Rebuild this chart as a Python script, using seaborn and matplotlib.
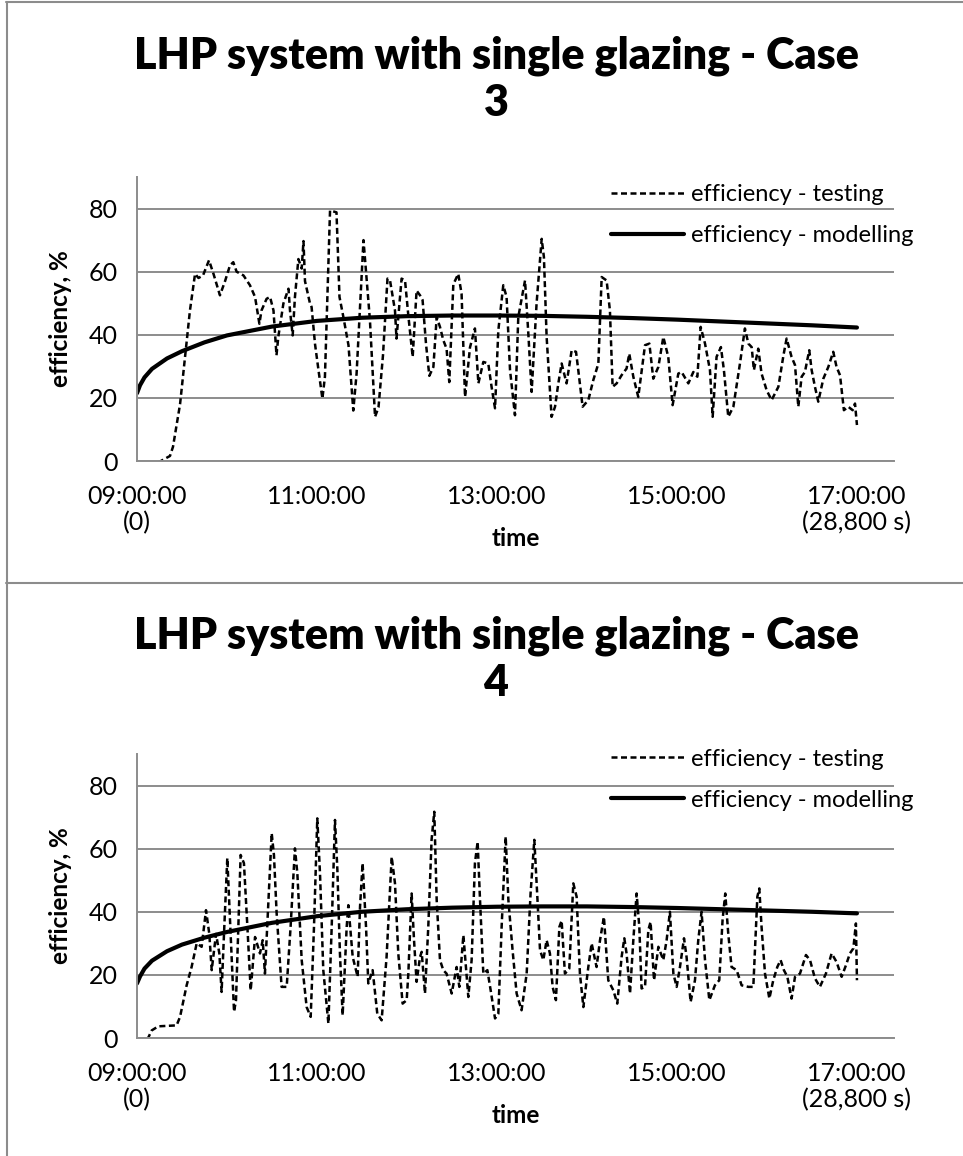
import numpy as np
import pandas as pd
import matplotlib
matplotlib.use("Agg")
import matplotlib.pyplot as plt
from matplotlib.lines import Line2D
import seaborn as sns

# time axis in minutes after 09:00 (0 .. 480 = 17:00)
TIME_TICKS = [0, 120, 240, 360, 480]
TIME_LABELS = ["09:00:00\n(0)", "11:00:00", "13:00:00", "15:00:00", "17:00:00\n(28,800 s)"]
Y_TICKS = [0, 20, 40, 60, 80]

case3_test_t = [14, 22, 24, 28.7, 32, 35.3, 38.7, 41, 44, 48, 51, 55.3, 58.7, 62, 64.2, 66.4, 71, 75.3,
                78.7, 81.6, 83, 86.4, 88.7, 91, 93, 94.2, 97.6, 101, 102, 103.8, 105.3, 107.6, 109.8, 111,
                112, 115.3, 116.4, 118.7, 121, 123.6, 125.3, 128.7, 133, 135, 137.6, 141, 144.2, 146.4,
                151, 153, 155.3, 158.7, 161, 164, 167, 168.7, 172, 173, 176.4, 178.7, 181, 183.8, 186.4,
                188.7, 190.4, 192.7, 194.9, 197.6, 199.8, 202, 204.2, 206.4, 208.2, 210.9, 214.2, 216.4,
                218.7, 222, 225.3, 227.6, 230.9, 234.2, 236.4, 238.7, 240.9, 244.2, 246.4, 248.7, 252,
                254.2, 258.7, 260.9, 263.1, 266.4, 269.8, 271.3, 273.1, 276.4, 278.7, 280.9, 283.1, 286.4,
                289.8, 292.7, 294.2, 297.1, 300.9, 304.2, 307.6, 309.8, 313.1, 315.3, 317.1, 319.8, 323.1,
                326.4, 328.2, 330.9, 334.2, 338.7, 341.6, 344.2, 347.6, 350.9, 354.2, 357.1, 360.9, 363.1,
                367.6, 370.9, 373.6, 375.8, 378.7, 382, 383.8, 386.4, 389.3, 391.3, 394.2, 397.6, 402,
                405.3, 407.6, 409.8, 411.3, 414.2, 416.4, 419.8, 423.1, 427.6, 431, 433.1, 436.4, 438.7,
                440.9, 443.1, 445.3, 448.2, 449.8, 452, 454.2, 457.6, 460.9, 464.2, 466.4, 468.7, 471.3,
                474.2, 477.1, 478.7, 480]
case3_test_v = [-0.5, 1.6, 4.5, 18, 33, 47.7, 59.3, 58, 58.8, 63.6, 59.3, 52.5, 57, 62, 63, 60, 58.8, 55.7,
                52, 43.5, 47.7, 51.4, 52, 47.7, 33.5, 39.3, 49.9, 54.6, 47.7, 39.8, 52, 64, 61, 69.7,
                57, 50, 48.8, 37, 28.8, 19.8, 26.7, 79.4, 78.8, 52, 45.6, 36.7, 16, 27.7,
                70, 58, 44.6, 14, 17, 33.5, 57.8, 57.2, 47.7, 38.8, 57.8, 57.2, 45.6, 33, 54,
                52.5, 51, 37, 27, 29.8, 45.6, 42.5, 38.3, 35.6, 25, 56, 59.3, 53,
                20.3, 36, 42, 24.6, 31.4, 30.9, 23.5, 16.7, 41.4, 55.7, 52, 28.8, 14.5,
                45.6, 57.2, 40.4, 21.9, 49.9, 70.4, 64.6, 39.3, 14, 17.2, 24.6, 30.9, 24.6,
                35.1, 34.6, 28.8, 17.2, 19.3, 25.6, 30.9, 58.3, 57.2, 47.7, 23.5, 24.6, 27.2,
                29.3, 34, 26.7, 20.3, 36.7, 37.2, 26.1, 29.8, 39.3, 33, 17.7, 27.7, 28.2,
                24.6, 28.2, 26.7, 42.5, 37.2, 28.8, 14, 33, 36.1, 28.8, 14, 17.2, 30.9,
                42, 37.2, 36.1, 28.8, 35.6, 27.7, 22.4, 19.3, 23.5, 33.5, 38.8, 33, 30.4,
                17.2, 26.7, 28.2, 35.1, 28.8, 23.5, 18.8, 26.1, 29.8, 34.6, 29.8, 27.2, 16.1,
                17.2, 16.1, 18.2, 11.4]

# ---- Case 3: modelled efficiency
case3_model_t = [0, 2, 5, 10, 20, 30, 45, 60, 90, 120, 150, 180, 210, 240, 270, 300, 330, 360, 390, 420, 450, 480]
case3_model_v = [21.5, 24, 26.5, 29.2, 32.5, 34.8, 37.6, 39.8, 42.6, 44.4, 45.4, 45.9, 46.1, 46.1, 46,
                 45.7, 45.3, 44.8, 44.2, 43.6, 43, 42.3]

# ---- Case 4: measured efficiency
case4_test_t = [6.9, 9.8, 14.2, 26.4, 28.7, 33.1, 36.4, 39.8, 43.1, 46, 48.2, 49.8, 52.7, 54.9, 56.4, 58.2,
                60.2, 62, 64.7, 66, 69.1, 71.3, 73.6, 75.8, 78.7, 82, 83.8, 85.3, 87.1, 89.8, 91.3, 93.1,
                96.4, 99.8, 102.4, 105.3, 106.9, 109.8, 113.1, 115.8, 118, 120.2, 122, 124.2, 127.6, 129.8,
                132, 133.6, 135.3, 137.1, 139.8, 140.9, 143.8, 147.1, 148.7, 150.4, 152.7, 154.2, 157.1,
                160.2, 163.1, 166.4, 169.8, 172, 174.2, 177.1, 179.8, 180.9, 183.1, 184.7, 186.4, 188.7,
                189.8, 192, 194.2, 196.4, 198.2, 199.8, 202, 204.2, 206.4, 209.8, 213.1, 214.9, 217.6,
                220.9, 223.1, 225.3, 227.1, 228.7, 230.9, 233.6, 235.8, 238.7, 240.9, 243.1, 245.8, 247.6,
                250.4, 253.1, 256.4, 259.8, 262.4, 264.9, 266.9, 268.7, 270.9, 273.1, 275.3, 277.1, 279.3,
                281.6, 283.1, 285.3, 288.2, 290.9, 293.1, 295.3, 297.6, 300.9, 303.1, 306.4, 308.7, 311.3,
                314.2, 317.6, 320.2, 323.1, 324.9, 326.4, 328.7, 330.9, 333.1, 334.9, 336.4, 338.7, 340.9,
                342.4, 344.7, 347.6, 350.9, 353.1, 355.3, 357.6, 359.8, 362, 364.7, 366.4, 369.1, 372,
                374.2, 376.4, 378.7, 381.6, 385.3, 388.2, 390.4, 392.2, 394.2, 396.4, 399.8, 403.1, 407.6,
                410.9, 413.6, 414.9, 416.4, 418.7, 421.6, 424.2, 426.9, 429.1, 431.3, 433.6, 436.4, 438.7,
                442, 446, 448.7, 452, 455.3, 459.3, 463.1, 466.4, 469.8, 472.7, 475.3, 477.6, 479.3, 480]
case4_test_v = [-0.5, 2.4, 3.7, 4, 6.7, 16.7, 22.5, 30, 28.9, 40.5, 33, 21.5, 33, 26.8, 14.6, 35.2,
                57, 37.4, 8.3, 12, 58, 55.4, 35.2, 15.1, 32, 26.8, 31, 20.4, 38.4, 64.9, 58, 39.5,
                16.2, 16.2, 35.2, 60.1, 52.2, 24.7, 9.8, 6.7, 35.2, 69.6, 52.2, 21.5, 4.6, 35.2,
                69.1, 53.2, 26.8, 7.2, 35.2, 42.1, 25.7, 19.4, 41.6, 55.4, 35.2, 17.3, 21.5,
                7.7, 5.6, 25.7, 57.4, 49, 26.8, 10.9, 12, 20.4, 45.8, 31, 17.8, 25.7,
                27.3, 14.1, 35.2, 62.8, 71.7, 43.7, 24.7, 21.5, 20.4, 14.1, 22.5, 16.2, 32.6,
                13, 24.7, 55.4, 62.2, 43.7, 20.4, 21.5, 15.1, 6.2, 7.7, 35.2, 63.8, 43.7,
                27.8, 14.1, 8.8, 20.4, 45.8, 62.8, 44.8, 27.8, 24.7, 31, 26.8, 16.2, 12,
                35.2, 37.2, 20.4, 22, 49, 44.8, 20.4, 9.8, 22.5, 30, 22.5, 31, 38.4,
                18.3, 15.1, 10.9, 25.7, 31.6, 26.8, 14.1, 31, 45.8, 35.2, 15.7, 16.2, 34.2,
                36.8, 18.3, 28.9, 24.7, 31, 40, 20.4, 16.2, 22.5, 31.6, 25.7, 11.4, 18.3,
                31, 40, 24.7, 12, 16.7, 18.3, 37.4, 45.8, 33, 22.5, 21.5, 16.7, 16.2,
                16.2, 44.8, 47.4, 35.2, 20.4, 12.5, 18.3, 22.5, 24.7, 21.5, 19.4, 12.5, 19.4,
                20.4, 26.3, 24.7, 18.9, 16.2, 20.4, 26.8, 24.1, 19.4, 23.1, 26.8, 28.4, 36.3, 18.3]

# ---- Case 4: modelled efficiency
case4_model_t = [0, 2, 5, 10, 20, 30, 45, 60, 90, 120, 150, 180, 210, 240, 270, 300, 330, 360, 390, 420, 450, 480]
case4_model_v = [17.3, 19.5, 22, 24.5, 27.5, 29.6, 31.8, 33.6, 36.5, 38.6, 40, 40.8, 41.3, 41.6, 41.7,
                 41.7, 41.5, 41.2, 40.8, 40.4, 40, 39.5]

GRID_COLOR = "#8c8c8c"
W, H = 963, 1156

sns.set_theme(style="white")
plt.rcParams["font.family"] = ["Lato", "DejaVu Sans"]
plt.rcParams["text.color"] = "black"
plt.rcParams["axes.labelcolor"] = "black"


def draw_panel(ax, title_y, case, test_t, test_v, model_t, model_v, legend_y):
    """Draw one Excel-like efficiency panel."""
    df_test = pd.DataFrame({"t": test_t, "eff": test_v})
    df_model = pd.DataFrame({"t": model_t, "eff": model_v})

    sns.lineplot(data=df_test, x="t", y="eff", ax=ax, color="black", linewidth=1.8,
                 estimator=None, sort=False, label="efficiency - testing")
    ax.lines[-1].set_dashes((2.4, 1.4))
    sns.lineplot(data=df_model, x="t", y="eff", ax=ax, color="black", linewidth=3,
                 estimator=None, sort=False, label="efficiency - modelling")

    ax.set_xlim(0, 504.7)
    ax.set_ylim(0, 90)
    ax.set_xticks(TIME_TICKS)
    ax.set_xticklabels(TIME_LABELS)
    ax.set_yticks(Y_TICKS)

    ax.set_axisbelow(True)
    ax.yaxis.grid(True, color=GRID_COLOR, linewidth=1.4)
    ax.xaxis.grid(False)
    for side in ["top", "right"]:
        ax.spines[side].set_visible(False)
    for side in ["left", "bottom"]:
        ax.spines[side].set_color(GRID_COLOR)
        ax.spines[side].set_linewidth(1.4)

    ax.tick_params(axis="both", direction="out", length=5, width=1.4, color=GRID_COLOR,
                   labelsize=18, labelcolor="black")
    ax.tick_params(axis="x", pad=12)
    ax.tick_params(axis="y", pad=9)

    ax.set_xlabel("time", fontsize=17.5, fontweight="bold")
    ax.set_ylabel("efficiency, %", fontsize=17.5, fontweight="bold")
    ax.xaxis.set_label_coords(0.5, -0.232)
    ax.yaxis.set_label_coords(-0.086, 0.5)

    ax.legend(loc="center left", bbox_to_anchor=(0.626, legend_y), frameon=False,
              fontsize=17, borderpad=0, borderaxespad=0, handlelength=3.1,
              handletextpad=0.3, labelspacing=0.85)

    fig.text(496 / W, title_y, f"LHP system with single glazing - Case\n{case}",
             ha="center", va="center", fontsize=31, fontweight="heavy", linespacing=1.2)


fig = plt.figure(figsize=(W / 100, H / 100), dpi=100)

ax_top = fig.add_axes([137 / W, 1 - 461 / H, 757 / W, 284 / H])
ax_bot = fig.add_axes([137 / W, 1 - 1038 / H, 757 / W, 284 / H])

draw_panel(ax_top, 1 - 79 / H, 3, case3_test_t, case3_test_v, case3_model_t, case3_model_v, 0.866)
draw_panel(ax_bot, 1 - 659 / H, 4, case4_test_t, case4_test_v, case4_model_t, case4_model_v, 0.910)

# chart area borders (as in the spreadsheet export)
frame_kw = dict(color=GRID_COLOR, linewidth=1.5, transform=fig.transFigure)
fig.add_artist(Line2D([7 / W, 7 / W], [0, 1 - 2 / H], **frame_kw))
fig.add_artist(Line2D([6 / W, 1], [1 - 2 / H, 1 - 2 / H], **frame_kw))
fig.add_artist(Line2D([6 / W, 1], [1 - 583 / H, 1 - 583 / H], **frame_kw))

fig.savefig("out.png", dpi=100)
